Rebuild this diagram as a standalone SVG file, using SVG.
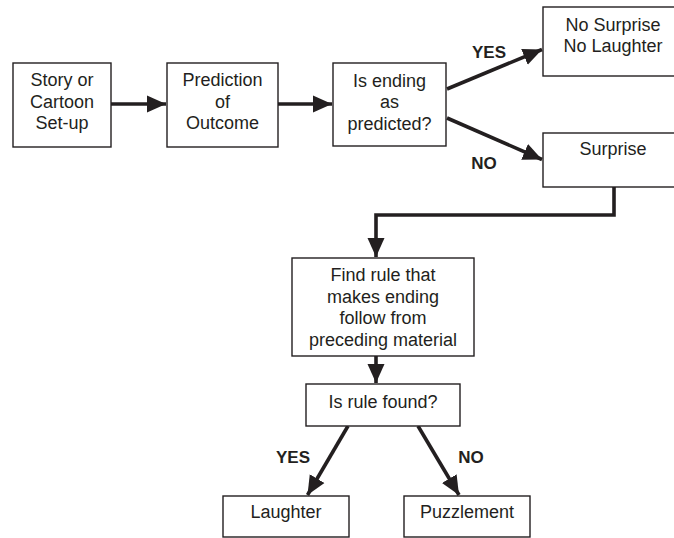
<svg xmlns="http://www.w3.org/2000/svg" width="674" height="538" viewBox="0 0 674 538">
<style>
.box{fill:#fff;stroke:#231f20;stroke-width:1.4}
.t{font-family:"Liberation Sans",Arial,sans-serif;font-size:18px;fill:#231f20;text-anchor:middle}
.lb{font-family:"Liberation Sans",Arial,sans-serif;font-size:17px;font-weight:bold;fill:#231f20;text-anchor:middle}
.c{fill:none;stroke:#231f20;stroke-width:3.6;stroke-linejoin:miter}
</style>
<defs>
<marker id="ah" markerUnits="userSpaceOnUse" markerWidth="20" markerHeight="18" refX="19" refY="9" orient="auto" viewBox="0 0 20 18">
<path d="M0,0.5 L19,9 L0,17.5 Z" fill="#231f20"/>
</marker>
</defs>
<rect width="674" height="538" fill="#fff"/>
<g id="connectors">
<line class="c" x1="111" y1="104" x2="166" y2="104" marker-end="url(#ah)"/>
<line class="c" x1="278" y1="104" x2="332" y2="104" marker-end="url(#ah)"/>
<line class="c" x1="447" y1="89" x2="542" y2="49.5" marker-end="url(#ah)"/>
<line class="c" x1="447" y1="118" x2="542" y2="159.5" marker-end="url(#ah)"/>
<polyline class="c" points="614,187 614,215 376,215 376,257" marker-end="url(#ah)"/>
<line class="c" x1="376" y1="356" x2="376" y2="383" marker-end="url(#ah)"/>
<line class="c" x1="348" y1="426" x2="307.5" y2="495" marker-end="url(#ah)"/>
<line class="c" x1="418" y1="426" x2="459" y2="495" marker-end="url(#ah)"/>
</g>
<g id="labels">
<text class="lb" x="489" y="58">YES</text>
<text class="lb" x="484" y="169">NO</text>
<text class="lb" x="293" y="463">YES</text>
<text class="lb" x="471" y="463">NO</text>
</g>
<g id="setup">
<rect class="box" x="13" y="63" width="98" height="84"/>
<text class="t" x="62" y="86">Story or</text>
<text class="t" x="62" y="107.5">Cartoon</text>
<text class="t" x="62" y="129">Set-up</text>
</g>
<g id="prediction">
<rect class="box" x="167" y="63" width="111" height="84"/>
<text class="t" x="222.5" y="86">Prediction</text>
<text class="t" x="222.5" y="107.5">of</text>
<text class="t" x="222.5" y="129">Outcome</text>
</g>
<g id="ending">
<rect class="box" x="333" y="63" width="113" height="83"/>
<text class="t" x="389.5" y="86.5">Is ending</text>
<text class="t" x="389.5" y="108">as</text>
<text class="t" x="389.5" y="129.5">predicted?</text>
</g>
<g id="nosurprise">
<rect class="box" x="543" y="7" width="140" height="69"/>
<text class="t" x="613" y="30.5">No Surprise</text>
<text class="t" x="613" y="52">No Laughter</text>
</g>
<g id="surprise">
<rect class="box" x="543" y="133" width="140" height="54"/>
<text class="t" x="613" y="155">Surprise</text>
</g>
<g id="findrule">
<rect class="box" x="292" y="258" width="182" height="98"/>
<text class="t" x="383" y="281">Find rule that</text>
<text class="t" x="383" y="302.5">makes ending</text>
<text class="t" x="383" y="324">follow from</text>
<text class="t" x="383" y="345.5">preceding material</text>
</g>
<g id="rulefound">
<rect class="box" x="306" y="384" width="154" height="42"/>
<text class="t" x="383" y="407.5">Is rule found?</text>
</g>
<g id="laughter">
<rect class="box" x="223" y="496" width="126" height="41"/>
<text class="t" x="286" y="518">Laughter</text>
</g>
<g id="puzzlement">
<rect class="box" x="404" y="496" width="126" height="41"/>
<text class="t" x="467" y="518">Puzzlement</text>
</g>
</svg>
